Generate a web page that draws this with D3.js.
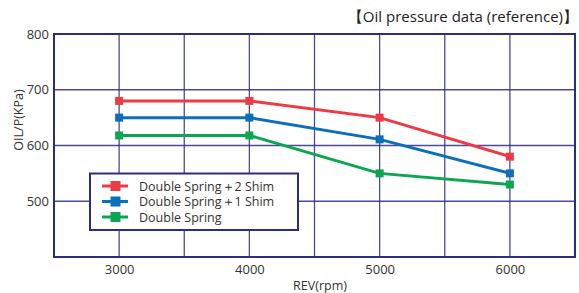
<!DOCTYPE html>
<html><head><meta charset="utf-8">
<script src="https://cdn.jsdelivr.net/npm/d3@7"></script>
<style>body{margin:0;background:#fff}svg{display:block}text{font-family:"Open Sans","Noto Sans",sans-serif}</style>
</head><body><svg id="c" width="579" height="293"></svg>
<script>
const revs = [3000, 4000, 5000, 6000];
const seriesNames = ["Double Spring＋2 Shim", "Double Spring＋1 Shim", "Double Spring"];
const shim2 = [680, 680, 650, 580];
const shim1 = [650, 650, 611, 550];
const noShim = [618, 618, 550, 530];
const yTicks = [500, 600, 700, 800];
const xTicks = [3000, 4000, 5000, 6000];
const colors = ["#ee3a43", "#0b6fba", "#0ba64f"];
const series = [shim2, shim1, noShim];

const svg = d3.select("#c");
const L = 54, R = 575, T = 34, B = 257;
const x = d3.scaleLinear().domain([2500, 6500]).range([L, R]);
const y = d3.scaleLinear().domain([400, 800]).range([B, T]);
const navy = "#2d2d80";

// grid
const gx = d3.range(3000, 6500, 500);
svg.append("g").selectAll("line").data(gx).join("line")
  .attr("x1", d => x(d)).attr("x2", d => x(d)).attr("y1", T).attr("y2", B)
  .attr("stroke", navy).attr("stroke-width", 1.3).attr("stroke-opacity", 0.85);
svg.append("g").selectAll("line").data([500, 600, 700]).join("line")
  .attr("x1", L).attr("x2", R).attr("y1", d => y(d)).attr("y2", d => y(d))
  .attr("stroke", navy).attr("stroke-width", 1.3).attr("stroke-opacity", 0.85);

// frame
svg.append("rect").attr("x", L).attr("y", T).attr("width", R - L).attr("height", B - T)
  .attr("fill", "none").attr("stroke", navy).attr("stroke-width", 2);

// axes (labels only)
const yAxis = d3.axisLeft(y).tickValues(yTicks).tickSize(0).tickPadding(5);
const ya = svg.append("g").attr("transform", `translate(${L},0)`).call(yAxis);
ya.select(".domain").remove();
ya.selectAll("text").attr("font-size", 13).attr("fill", "#333").attr("font-family", "'Open Sans','Noto Sans',sans-serif");

const xAxis = d3.axisBottom(x).tickValues(xTicks).tickSize(0).tickPadding(8).tickFormat(d3.format("d"));
const xa = svg.append("g").attr("transform", `translate(0,${B})`).call(xAxis);
xa.select(".domain").remove();
xa.selectAll("text").attr("font-size", 13).attr("fill", "#333").attr("font-family", "'Open Sans','Noto Sans',sans-serif");

svg.append("text").attr("x", 320).attr("y", 290).attr("text-anchor", "middle")
  .attr("font-size", 12.5).attr("fill", "#333").text("REV(rpm)");
svg.append("text").attr("transform", "translate(23,120) rotate(-90)").attr("text-anchor", "middle")
  .attr("font-size", 12.5).attr("fill", "#333").text("OIL/P(KPa)");

svg.append("text").attr("x", 578).attr("y", 22).attr("text-anchor", "end")
  .attr("font-size", 15).attr("fill", "#222").text("【Oil pressure data (reference)】");

// series
const line = d3.line().x((d, i) => x(revs[i])).y(d => y(d));
series.forEach((s, k) => {
  svg.append("path").datum(s).attr("d", line).attr("fill", "none")
    .attr("stroke", colors[k]).attr("stroke-width", 3);
  svg.append("g").selectAll("rect").data(s).join("rect")
    .attr("x", (d, i) => x(revs[i]) - 4).attr("y", d => y(d) - 4)
    .attr("width", 8).attr("height", 8).attr("fill", colors[k]);
});

// legend
const lg = svg.append("g");
lg.append("rect").attr("x", 90).attr("y", 173.5).attr("width", 208).attr("height", 56.5)
  .attr("fill", "#fff").attr("stroke", navy).attr("stroke-width", 2);
seriesNames.forEach((n, k) => {
  const yy = 186 + k * 15.5;
  lg.append("line").attr("x1", 102).attr("x2", 128).attr("y1", yy).attr("y2", yy)
    .attr("stroke", colors[k]).attr("stroke-width", 3);
  lg.append("rect").attr("x", 110.5).attr("y", yy - 5).attr("width", 10).attr("height", 10).attr("fill", colors[k]);
  lg.append("text").attr("x", 139).attr("y", yy + 4.5).attr("font-size", 12.5)
    .attr("font-family", "Lato,'Open Sans',sans-serif").attr("fill", "#333").text(n);
});
</script></body></html>
